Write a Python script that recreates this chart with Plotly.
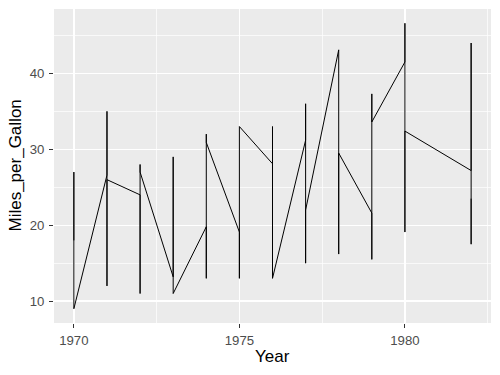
import plotly.graph_objects as go

# Years present in the data (1981 absent)
years = [1970, 1971, 1972, 1973, 1974, 1975, 1976, 1977, 1978, 1979, 1980, 1982]

# Miles_per_Gallon values per year, in drawing order
mpg_1970 = [18, 27, 14, 18, 14, 9]
mpg_1971 = [26.6, 35, 12, 28, 25, 26]
mpg_1972 = [24, 11, 28, 27]
mpg_1973 = [13.2, 29, 11]
mpg_1974 = [19.8, 13, 32, 30.9]
mpg_1975 = [19.1, 13, 33]
mpg_1976 = [28.1, 33, 13]
mpg_1977 = [31.2, 36, 15, 33.6, 16.1, 22]
mpg_1978 = [43.1, 16.2, 29.5]
mpg_1979 = [21.6, 15.5, 37.3, 33.6]
mpg_1980 = [41.5, 46.6, 19.1, 35, 23.5, 32.4]
mpg_1982 = [27.2, 44, 17.5, 39, 23.5]

mpg_by_year = [mpg_1970, mpg_1971, mpg_1972, mpg_1973, mpg_1974, mpg_1975,
               mpg_1976, mpg_1977, mpg_1978, mpg_1979, mpg_1980, mpg_1982]

x_tick_vals = [1970, 1975, 1980]
y_tick_vals = [10, 20, 30, 40]

x = []
y = []
for yr, vals in zip(years, mpg_by_year):
    for v in vals:
        x.append(yr)
        y.append(v)

fig = go.Figure()
fig.add_trace(go.Scatter(x=x, y=y, mode="lines",
                         line=dict(color="black", width=1), showlegend=False,
                         hoverinfo="skip"))

FONT = "Liberation Sans, Arial, Helvetica, sans-serif"
tick_font = dict(family=FONT, size=13.2, color="#4D4D4D")

fig.update_layout(
    width=500, height=375,
    margin=dict(l=54, r=9, t=9, b=52, autoexpand=False),
    paper_bgcolor="white",
    plot_bgcolor="#EBEBEB",
    font=dict(family=FONT),
    xaxis=dict(
        range=[1969.4, 1982.6], tickvals=x_tick_vals,
        ticktext=[str(v) for v in x_tick_vals],
        showgrid=True, gridcolor="white", gridwidth=1.4,
        minor=dict(tickvals=[1972.5, 1977.5, 1982.5], showgrid=True,
                   gridcolor="white", gridwidth=0.7, ticks=""),
        zeroline=False, showline=False, automargin=False,
        ticks="outside", ticklen=4, tickcolor="#333333", tickwidth=1.1,
        tickfont=tick_font, ticklabelstandoff=1,
    ),
    yaxis=dict(
        range=[7.12, 48.48], tickvals=y_tick_vals,
        ticktext=[str(v) for v in y_tick_vals],
        showgrid=True, gridcolor="white", gridwidth=1.4,
        minor=dict(tickvals=[15, 25, 35, 45], showgrid=True,
                   gridcolor="white", gridwidth=0.7, ticks=""),
        zeroline=False, showline=False, automargin=False,
        ticks="outside", ticklen=4, tickcolor="#333333", tickwidth=1.1,
        tickfont=tick_font, ticklabelstandoff=2,
    ),
    annotations=[
        dict(text="Year", xref="paper", yref="paper", x=0.5, y=0,
             xanchor="center", yanchor="middle", yshift=-33, showarrow=False,
             font=dict(family=FONT, size=17, color="black")),
        dict(text="Miles_per_Gallon", xref="paper", yref="paper", x=0, y=0.5,
             xanchor="center", yanchor="middle", xshift=-39.5, textangle=-90,
             showarrow=False, font=dict(family=FONT, size=17, color="black")),
    ],
)

fig.write_html("out.html",
               config={"displayModeBar": False, "staticPlot": True},
               post_script="document.body.style.margin='0';document.body.style.overflow='hidden';")
